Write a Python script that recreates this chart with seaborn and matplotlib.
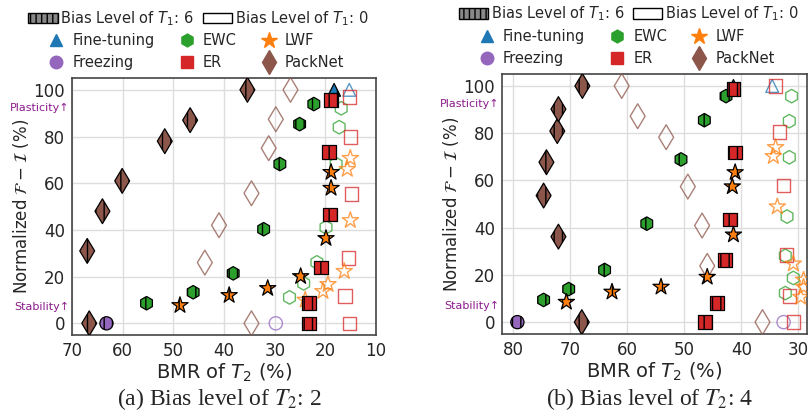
import numpy as np
import pandas as pd
import matplotlib
matplotlib.use("Agg")
import matplotlib.pyplot as plt
import seaborn as sns
from matplotlib.patches import Patch
from matplotlib.lines import Line2D

# -------------------------------
# Data: (a) bias level of T2 = 2
# -------------------------------
a_ft_6_x, a_ft_6_y = [18.3], [100]
a_ft_0_x, a_ft_0_y = [15.3], [100]
a_fz_6_x, a_fz_6_y = [63.2], [0]
a_fz_0_x, a_fz_0_y = [29.8], [0]
a_ewc_6_x = [55.3, 46.1, 38.2, 32.2, 29.0, 25.1, 22.3]
a_ewc_6_y = [8.6, 13.3, 21.4, 40.3, 68.2, 85.3, 93.9]
a_ewc_0_x = [27.1, 24.3, 21.7, 19.9, 17.9, 17.3, 16.9]
a_ewc_0_y = [11.1, 17.1, 26.1, 41.1, 68.2, 84.0, 92.1]
a_er_6_x = [23.3, 23.3, 20.9, 19.1, 19.3, 18.9]
a_er_6_y = [0, 8.6, 24.0, 46.7, 73.3, 95.6]
a_er_0_x = [15.3, 16.1, 15.5, 14.9, 15.1, 15.3]
a_er_0_y = [0, 11.6, 27.9, 55.3, 79.7, 96.9]
a_lwf_6_x = [48.7, 39.0, 31.4, 24.9, 19.9, 18.9, 18.9]
a_lwf_6_y = [7.7, 12.0, 15.0, 20.1, 36.4, 57.9, 64.7]
a_lwf_0_x = [24.0, 20.5, 19.5, 16.3, 15.1, 15.7, 15.1]
a_lwf_0_y = [10.0, 13.7, 16.7, 22.3, 44.1, 66.0, 70.7]
a_pn_6_x = [66.6, 67.0, 64.0, 60.1, 51.7, 46.7, 35.4]
a_pn_6_y = [0, 31, 48, 61, 78, 87, 100]
a_pn_0_x = [34.6, 43.8, 41.0, 34.6, 31.2, 29.8, 26.9]
a_pn_0_y = [0, 26, 42, 55.7, 75, 87.4, 100]

# -------------------------------
# Data: (b) bias level of T2 = 4
# -------------------------------
b_ft_6_x, b_ft_6_y = [41.4], [100]
b_ft_0_x, b_ft_0_y = [34.6], [100]
b_fz_6_x, b_fz_6_y = [79.3], [0]
b_fz_0_x, b_fz_0_y = [32.6], [0]
b_ewc_6_x = [74.7, 70.3, 64.0, 56.6, 50.6, 46.5, 42.7]
b_ewc_6_y = [9.4, 14.0, 22.1, 41.7, 68.9, 85.5, 95.7]
b_ewc_0_x = [32.3, 30.9, 32.3, 32.0, 31.6, 31.6, 31.2]
b_ewc_0_y = [12.3, 18.7, 28.1, 44.7, 69.8, 85.1, 95.7]
b_er_6_x = [46.4, 44.3, 42.9, 42.0, 41.1, 41.4]
b_er_6_y = [0, 8.1, 26.4, 43.4, 71.9, 98.7]
b_er_0_x = [30.9, 31.6, 32.1, 32.6, 33.3, 34.0]
b_er_0_y = [0, 11.1, 28.5, 57.9, 80.4, 100]
b_lwf_6_x = [70.7, 62.7, 54.1, 46.0, 41.4, 41.6, 41.1]
b_lwf_6_y = [8.5, 12.8, 14.9, 19.1, 37.0, 57.4, 63.4]
b_lwf_0_x = [29.6, 29.1, 29.1, 30.9, 33.7, 34.4, 34.0]
b_lwf_0_y = [10.6, 14.9, 17.9, 24.7, 48.9, 70.2, 74.0]
b_pn_6_x = [68.0, 72.1, 74.7, 74.2, 72.3, 72.1, 67.9]
b_pn_6_y = [0, 36.2, 53.6, 67.7, 80.9, 90.2, 100]
b_pn_0_x = [36.3, 46.0, 46.9, 49.4, 53.2, 58.2, 61.0]
b_pn_0_y = [0, 23.8, 40.9, 57.4, 78.3, 87.2, 100]

methods = ["Fine-tuning", "Freezing", "EWC", "ER", "LWF", "PackNet"]
colors = {"Fine-tuning": "#1f77b4", "Freezing": "#9467bd", "EWC": "#2ca02c",
          "ER": "#d62728", "LWF": "#ff7f0e", "PackNet": "#8c564b"}
markers = {"Fine-tuning": "^", "Freezing": "o", "EWC": "h",
           "ER": "s", "LWF": "*", "PackNet": "d"}
sizes = {"Fine-tuning": 85, "Freezing": 90, "EWC": 95,
         "ER": 95, "LWF": 150, "PackNet": 160}

panel_a = {
    "Fine-tuning": (a_ft_6_x, a_ft_6_y, a_ft_0_x, a_ft_0_y),
    "Freezing": (a_fz_6_x, a_fz_6_y, a_fz_0_x, a_fz_0_y),
    "EWC": (a_ewc_6_x, a_ewc_6_y, a_ewc_0_x, a_ewc_0_y),
    "ER": (a_er_6_x, a_er_6_y, a_er_0_x, a_er_0_y),
    "LWF": (a_lwf_6_x, a_lwf_6_y, a_lwf_0_x, a_lwf_0_y),
    "PackNet": (a_pn_6_x, a_pn_6_y, a_pn_0_x, a_pn_0_y),
}
panel_b = {
    "Fine-tuning": (b_ft_6_x, b_ft_6_y, b_ft_0_x, b_ft_0_y),
    "Freezing": (b_fz_6_x, b_fz_6_y, b_fz_0_x, b_fz_0_y),
    "EWC": (b_ewc_6_x, b_ewc_6_y, b_ewc_0_x, b_ewc_0_y),
    "ER": (b_er_6_x, b_er_6_y, b_er_0_x, b_er_0_y),
    "LWF": (b_lwf_6_x, b_lwf_6_y, b_lwf_0_x, b_lwf_0_y),
    "PackNet": (b_pn_6_x, b_pn_6_y, b_pn_0_x, b_pn_0_y),
}

sns.set_theme(style="whitegrid")
plt.rcParams["font.family"] = ["DejaVu Sans"]
plt.rcParams["hatch.linewidth"] = 1.0
plt.rcParams["mathtext.fontset"] = "dejavusans"

fig = plt.figure(figsize=(8.09, 4.19), dpi=100)
ax_a = fig.add_axes([0.089, 0.2005, 0.376, 0.613])
ax_b = fig.add_axes([0.6205, 0.203, 0.377, 0.62])


def draw_panel(ax, panel, xlim):
    for m in methods:
        x6, y6, x0, y0 = panel[m]
        # hollow markers first (bias of T1 = 0)
        df0 = pd.DataFrame({"x": x0, "y": y0})
        sns.scatterplot(data=df0, x="x", y="y", ax=ax, marker=markers[m],
                        s=sizes[m], facecolor="none", edgecolor=colors[m],
                        linewidth=1.0, alpha=0.75, zorder=3)
        df6 = pd.DataFrame({"x": x6, "y": y6})
        sns.scatterplot(data=df6, x="x", y="y", ax=ax, marker=markers[m],
                        s=sizes[m], color=colors[m], edgecolor="black",
                        linewidth=0.9, hatch="||", zorder=4)
    ax.set_xlim(*xlim)
    ax.set_ylim(-5, 105)
    ax.set_yticks([0, 20, 40, 60, 80, 100])
    ax.tick_params(labelsize=12, length=3, color="#333333", pad=2)
    ax.grid(color="#dddddd", linewidth=1.0)
    for s in ax.spines.values():
        s.set_color("#444444")
        s.set_linewidth(1.2)
    ax.set_xlabel(r"BMR of $T_2$ (%)", fontsize=14, labelpad=1)
    ax.set_ylabel(r"Normalized $\mathcal{F}-\mathcal{I}$ (%)", fontsize=12, labelpad=2)
    ax.text(-0.008, 0.885, "Plasticity\u2191", transform=ax.transAxes, ha="right",
            va="center", fontsize=8, color="#8b1c8b")
    ax.text(-0.008, 0.108, "Stability\u2191", transform=ax.transAxes, ha="right",
            va="center", fontsize=8, color="#8b1c8b")

    bias_handles = [Patch(facecolor="#888888", edgecolor="black", hatch="|||"),
                    Patch(facecolor="white", edgecolor="black")]
    leg1 = ax.legend(bias_handles, [r"Bias Level of $T_1$: 6", r"Bias Level of $T_1$: 0"],
                     loc="lower center", bbox_to_anchor=(0.415, 1.196), ncol=2,
                     frameon=False, fontsize=10.5, handlelength=2.0,
                     handletextpad=0.2, columnspacing=0.6, borderaxespad=0,
                     borderpad=0)
    ax.add_artist(leg1)
    meth_handles = [Line2D([], [], linestyle="none", marker=markers[m],
                           markersize=np.sqrt(sizes[m]) * 0.95,
                           markerfacecolor=colors[m], markeredgecolor=colors[m])
                    for m in methods]
    ax.legend(meth_handles, methods, loc="lower center", bbox_to_anchor=(0.41, 1.023),
              ncol=3, frameon=False, fontsize=10.5, handlelength=1.0,
              handletextpad=0.6, columnspacing=1.7, labelspacing=0.5,
              borderaxespad=0.15, borderpad=0)


draw_panel(ax_a, panel_a, (70, 10))
draw_panel(ax_b, panel_b, (82, 28.5))

fig.text(0.271, 0.047, r"(a) Bias level of $T_2$: 2", ha="center", va="center",
         fontsize=17, family="Liberation Serif", math_fontfamily="stix")
fig.text(0.803, 0.047, r"(b) Bias level of $T_2$: 4", ha="center", va="center",
         fontsize=17, family="Liberation Serif", math_fontfamily="stix")

fig.savefig("out.png", dpi=100)
plt.close()
